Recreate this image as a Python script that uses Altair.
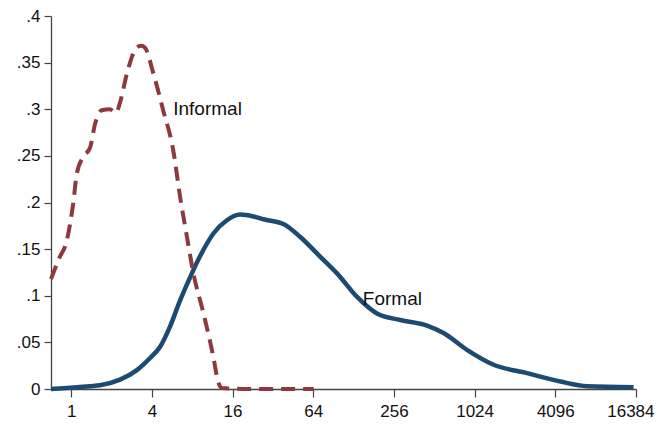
import altair as alt
import pandas as pd

# Log2 of plant employment and density values
informal_log2 = [-0.50, -0.30, -0.11, 0.05, 0.14, 0.30, 0.47, 0.59, 0.76, 0.96, 1.11, 1.21,
                 1.38, 1.62, 1.73, 1.83, 2.04, 2.28, 2.53, 2.70, 2.87, 3.03, 3.28, 3.53, 3.63, 3.73,
                 4.50, 5.25, 6.01]
informal_val = [0.118, 0.140, 0.159, 0.199, 0.231, 0.249, 0.259, 0.284, 0.299, 0.300, 0.296, 0.307,
                0.338, 0.366, 0.368, 0.366, 0.338, 0.299, 0.256, 0.206, 0.163, 0.124, 0.081, 0.033, 0.010,
                0.001, 0.0, 0.0, 0.0]

formal_log2 = [-0.50, 0.47, 0.71, 1.21, 1.62, 1.95, 2.20, 2.45, 2.70, 2.95, 3.19, 3.53, 3.86, 4.19,
               4.52, 4.77, 5.26, 5.68, 6.17, 6.59, 7.08, 7.58, 8.16, 8.82, 9.23, 9.81, 10.47, 11.30,
               12.13, 12.79, 13.94]
formal_val = [0.000, 0.003, 0.004, 0.010, 0.020, 0.033, 0.045, 0.067, 0.095, 0.120, 0.142, 0.167, 0.181,
              0.187, 0.185, 0.182, 0.177, 0.163, 0.142, 0.124, 0.099, 0.081, 0.074, 0.068, 0.060, 0.042,
              0.026, 0.017, 0.008, 0.003, 0.002]

x_ticks = [0, 2, 4, 6, 8, 10, 12, 14]  # log2 of 1, 4, 16, ..., 16384
y_ticks = [0, 0.05, 0.1, 0.15, 0.2, 0.25, 0.3, 0.35, 0.4]

label_text = ["Informal", "Formal"]
label_x = [2.53, 7.23]
label_y = [0.300, 0.097]

informal = pd.DataFrame({"x": informal_log2, "y": informal_val})
formal = pd.DataFrame({"x": formal_log2, "y": formal_val})
labels = pd.DataFrame({"x": label_x, "y": label_y, "t": label_text})

FONT = "Liberation Sans"

xs = alt.Scale(domain=[-0.5, 14], nice=False, zero=False)
ys = alt.Scale(domain=[0, 0.4], nice=False)

xaxis = alt.Axis(values=x_ticks, labelExpr="format(pow(2, datum.value), 'd')", grid=False,
                 title=None, tickSize=8, labelPadding=6, labelFontSize=17, labelFont=FONT,
                 labelColor="#111", domainColor="#444", tickColor="#444", domainWidth=1.3,
                 tickWidth=1.2, labelFlush=True, labelFlushOffset=18)
yaxis = alt.Axis(values=y_ticks,
                 labelExpr="datum.value == 0 ? '0' : replace(format(datum.value, '.2~f'), '0.', '.')",
                 grid=False, title=None, tickSize=7, labelPadding=4, labelFontSize=17, labelFont=FONT,
                 labelColor="#111", domainColor="#444", tickColor="#444", domainWidth=1.3,
                 tickWidth=1.2, labelFlush=False)

formal_line = alt.Chart(formal).mark_line(
    color="#1d4a73", strokeWidth=4.5, interpolate="monotone"
).encode(x=alt.X("x:Q", scale=xs, axis=xaxis), y=alt.Y("y:Q", scale=ys, axis=yaxis))

informal_line = alt.Chart(informal).mark_line(
    color="#8c3a3f", strokeWidth=4, strokeDash=[14, 8], interpolate="monotone"
).encode(x=alt.X("x:Q", scale=xs), y=alt.Y("y:Q", scale=ys))

text = alt.Chart(labels).mark_text(
    align="left", baseline="middle", font=FONT, fontSize=19, color="#111"
).encode(x=alt.X("x:Q", scale=xs), y=alt.Y("y:Q", scale=ys), text="t:N")

chart = alt.layer(formal_line, informal_line, text).properties(
    width=585, height=373,
    autosize=alt.AutoSizeParams(type="none"),
    padding={"left": 43, "top": 8, "right": 19, "bottom": 34},
    background="white",
).configure_view(stroke=None)

chart.save("out.html", embed_options={"renderer": "svg", "actions": False})
